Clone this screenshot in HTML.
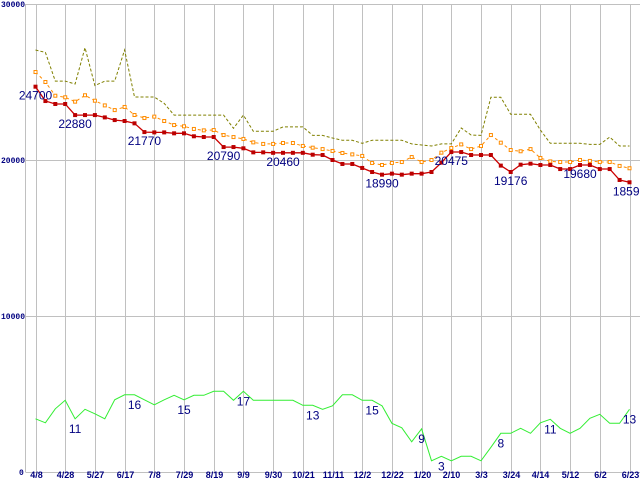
<!DOCTYPE html>
<html><head><meta charset="utf-8"><style>
html,body{margin:0;padding:0;background:#fff;}
svg{display:block;font-family:"Liberation Sans",sans-serif;}
</style></head><body>
<svg id="chart" width="640" height="480" viewBox="0 0 640 480" xmlns="http://www.w3.org/2000/svg">
<g id="grid"></g>
<g id="series"></g>
<g id="labels"></g>
</svg>
<script>
const xLabels=["4/8","4/28","5/27","6/17","7/8","7/29","8/19","9/9","9/30","10/21","11/11","12/2","12/22","1/20","2/10","3/3","3/24","4/14","5/12","6/2","6/23"];
const yTicks=[0,10000,20000,30000];
const lowPrice=[24700,23780,23590,23590,22880,22880,22880,22730,22560,22500,22350,21790,21770,21770,21710,21710,21520,21475,21475,20830,20830,20750,20490,20490,20460,20460,20460,20460,20340,20320,20000,19745,19745,19490,19230,19060,19125,19060,19125,19125,19230,19830,20510,20510,20320,20320,20320,19640,19230,19700,19765,19680,19680,19420,19420,19680,19680,19420,19420,18720,18570];
const avgPrice=[25640,25000,24120,24020,23740,24150,23800,23500,23200,23400,22885,22690,22780,22500,22240,22160,21990,21900,21920,21600,21470,21350,21130,21030,21030,21090,21090,20900,20790,20700,20580,20450,20360,20260,19810,19680,19810,19870,20190,19870,20000,20470,20770,21000,20700,20900,21600,21110,20640,20560,20700,20130,19910,19870,19870,20000,19940,19870,19870,19620,19470];
const highPrice=[27050,26900,25060,25060,24870,27200,24770,25060,25060,27050,24040,24040,24040,23630,22880,22880,22880,22880,22880,22880,22030,22880,21840,21840,21840,22120,22120,22120,21580,21580,21410,21260,21260,21070,21260,21260,21260,21260,21030,20960,20900,21030,21030,22050,21600,21580,24020,24020,22930,22930,22930,21920,21070,21070,21070,21070,21000,21000,21470,20900,20900];
const counts=[11.1,10.3,13.1,14.8,11.1,13,12.1,11.1,14.9,15.9,15.9,14.9,13.9,14.9,15.8,14.9,15.8,15.8,16.6,16.6,14.8,16.6,14.8,14.8,14.8,14.8,14.8,13.8,13.8,13,13.7,15.9,15.9,14.8,14.8,13.7,10.2,9.3,6.5,9.1,2.7,3.6,2.7,3.6,3.6,2.7,5.4,8.2,8.2,9.2,8.2,10.3,11,9.2,8.2,9.2,11.2,12,10.2,10.2,13];
const priceLabelIdx=[0,4,11,19,25,35,42,48,55,60];
const priceLabelText=["24700","22880","21770","20790","20460","18990","20475","19176","19680","18590"];
const countLabelIdx=[4,10,15,21,28,34,39,41,47,52,60];
const countLabelText=["11","16","15","17","13","15","9","3","8","11","13"];

const NS="http://www.w3.org/2000/svg";
const xs=i=>35.5+i*9.9;
const yp=v=>472-v*0.0156;
const yc=n=>474.3-5*n;
function mk(tag,attrs,parent){const e=document.createElementNS(NS,tag);for(const k in attrs)e.setAttribute(k,attrs[k]);parent.appendChild(e);return e;}
const grid=document.getElementById('grid'),ser=document.getElementById('series'),lab=document.getElementById('labels');

yTicks.forEach(t=>{
  const l=mk('line',{x1:25.5,x2:640,y1:yp(t)+0.5,y2:yp(t)+0.5,stroke:'#c0c0c0','stroke-width':1},grid);
  
  
  const tx=mk('text',{x:t===0?19:1,y:yp(t)+3,'font-size':8,'font-weight':'bold',fill:'#000080','font-family':'Liberation Mono, monospace'},grid);
  tx.textContent=String(t);
  
  
});
mk('line',{x1:25.5,x2:25.5,y1:4,y2:472,stroke:'#c0c0c0','stroke-width':1},grid);
xLabels.forEach((s,k)=>{
  const x=Math.round(xs(k*3))+0.5;
  const l=mk('line',{x1:x,x2:x,y1:4,y2:472,stroke:'#c0c0c0','stroke-width':1},grid);
  
  
  const tx=mk('text',{x:x,y:478,'font-size':9,'font-weight':'bold',fill:'#000080','text-anchor':'middle'},grid);
  tx.textContent=s;
  
  
});

function pts(arr,fy){return arr.map((v,i)=>xs(i).toFixed(1)+','+fy(v).toFixed(1)).join(' ');}
const hi=mk('polyline',{points:pts(highPrice,yp),fill:'none',stroke:'#808000','stroke-width':1,'stroke-dasharray':'3,2'},ser);


const av=mk('polyline',{points:pts(avgPrice,yp),fill:'none',stroke:'#ff8c00','stroke-width':1,'stroke-dasharray':'3,3'},ser);


avgPrice.forEach((v,i)=>{
  const r=mk('rect',{x:xs(i)-1.5,y:yp(v)-1.5,width:3,height:3,fill:'#fff',stroke:'#ff8c00','stroke-width':1},ser);
  
  
});
const lo=mk('polyline',{points:pts(lowPrice,yp),fill:'none',stroke:'#cc0000','stroke-width':1.3},ser);


lowPrice.forEach((v,i)=>{
  const r=mk('rect',{x:xs(i)-2,y:yp(v)-2,width:4,height:4,fill:'#bb0000'},ser);
  
  
});
const cl=mk('polyline',{points:pts(counts,yc),fill:'none',stroke:'#33ee33','stroke-width':1},ser);



priceLabelIdx.forEach((idx,k)=>{
  const tx=mk('text',{x:xs(idx),y:yp(lowPrice[idx])+13,'font-size':12,fill:'#000080','text-anchor':'middle'},lab);
  tx.textContent=priceLabelText[k];
  
  
});
countLabelIdx.forEach((idx,k)=>{
  const tx=mk('text',{x:xs(idx),y:yc(counts[idx])+14,'font-size':12,fill:'#000080','text-anchor':'middle'},lab);
  tx.textContent=countLabelText[k];
  
  
});
</script>
</body></html>
